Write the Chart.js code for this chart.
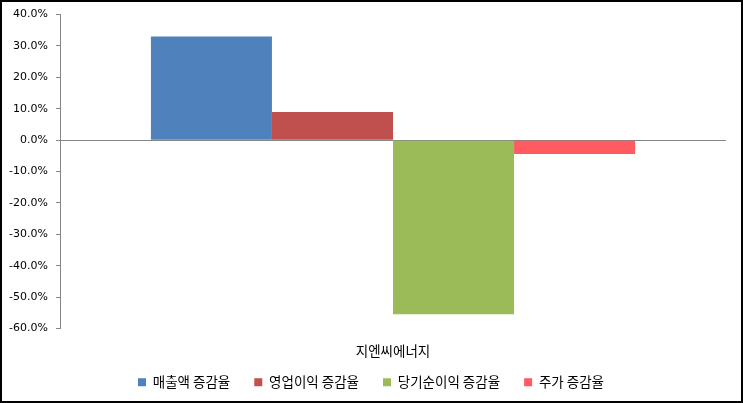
<!DOCTYPE html>
<html>
<head>
<meta charset="utf-8">
<script src="https://cdn.jsdelivr.net/npm/chart.js@4.4.1/dist/chart.umd.min.js"></script>
<style>
  html, body { margin: 0; padding: 0; background: #fff; }
  #wrap { width: 743px; height: 403px; }
</style>
</head>
<body>
<div id="wrap"><canvas id="chart" width="743" height="403"></canvas></div>
<script>
var categories = ['지엔씨에너지'];
var seriesNames = ['매출액 증감율', '영업이익 증감율', '당기순이익 증감율', '주가 증감율'];
var seriesValues = [33.0, 9.0, -55.5, -4.4];
var seriesColors = ['#4F81BD', '#C0504D', '#9BBB59', '#FF5B60'];

var datasets = seriesNames.map(function (name, i) {
    return {
        label: name,
        data: [seriesValues[i]],
        backgroundColor: seriesColors[i],
        borderWidth: 0,
        categoryPercentage: 0.727,
        barPercentage: 1.0
    };
});

// outer frame of the chart
var frame = {
    id: 'frame',
    afterDraw: function (chart) {
        var c = chart.ctx;
        c.save();
        c.strokeStyle = '#000';
        c.lineWidth = 2;
        c.strokeRect(1, 1, 741, 401);
        c.restore();
    }
};

var korFont = "'Noto Sans CJK KR', 'DejaVu Sans'";

var ctx = document.getElementById('chart').getContext('2d');
var chart = new Chart(ctx, {
    type: 'bar',
    data: { labels: categories, datasets: datasets },
    options: {
        responsive: false,
        animation: false,
        layout: { padding: { top: 8, right: 17, left: 16, bottom: 4 } },
        plugins: {
            tooltip: { enabled: false },
            legend: {
                position: 'bottom',
                labels: {
                    boxWidth: 8,
                    boxHeight: 8,
                    padding: 24,
                    color: '#000',
                    font: { family: korFont, size: 13.5 }
                }
            }
        },
        scales: {
            x: {
                grid: { display: false, drawTicks: false },
                border: { display: false },
                afterFit: function (scale) {
                    // keep the label box small so the legend sits close; don't clip the label
                    scale.height = 23;
                    scale._computeLabelArea = function () { return undefined; };
                },
                ticks: {
                    color: '#000',
                    padding: 14,
                    font: { family: korFont, size: 13.5 }
                }
            },
            y: {
                min: -60,
                max: 40,
                afterFit: function (scale) {
                    scale.width = 44;
                    scale._computeLabelArea = function () { return undefined; };
                },
                ticks: {
                    stepSize: 10,
                    color: '#000',
                    padding: 8,
                    font: { family: "'DejaVu Sans'", size: 11 },
                    callback: function (v) { return v.toFixed(1) + '%'; }
                },
                border: { display: true, color: '#868686', width: 1 },
                grid: {
                    drawOnChartArea: true,
                    drawTicks: true,
                    tickLength: 4,
                    tickColor: '#868686',
                    color: function (c) { return c.tick && c.tick.value === 0 ? '#868686' : 'rgba(0,0,0,0)'; },
                    lineWidth: 1
                }
            }
        }
    },
    plugins: [frame]
});
</script>
</body>
</html>
